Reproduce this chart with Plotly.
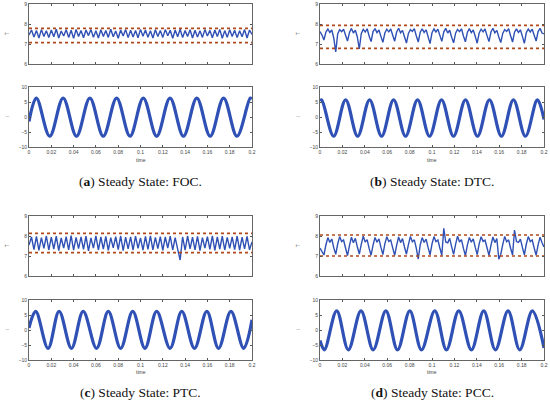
import plotly.graph_objects as go
import numpy as np

# time axis ticks
t_ticks = [0, 0.02, 0.04, 0.06, 0.08, 0.1, 0.12, 0.14, 0.16, 0.18, 0.2]
t_tick_text = ["0", "0.02", "0.04", "0.06", "0.08", "0.1", "0.12", "0.14", "0.16", "0.18", "0.2"]
torque_ticks = [6, 7, 8, 9]
current_ticks = [-10, -5, 0, 5, 10]

captions = ["(<b>a</b>) Steady State: FOC.", "(<b>b</b>) Steady State: DTC.",
            "(<b>c</b>) Steady State: PTC.", "(<b>d</b>) Steady State: PCC."]

# torque hysteresis band (upper, lower) per panel
band_a = [7.78, 7.07]
band_b = [7.93, 6.78]
band_c = [8.13, 7.17]
band_d = [8.05, 7.00]

# torque samples, evenly spaced over 0..0.2 s
torque_a = [7.45, 7.70, 7.35, 7.68, 7.30, 7.72, 7.38, 7.66, 7.32, 7.70,
            7.36, 7.74, 7.30, 7.65, 7.40, 7.71, 7.33, 7.69, 7.28, 7.73,
            7.37, 7.67, 7.31, 7.70, 7.42, 7.72, 7.34, 7.66, 7.30, 7.71,
            7.38, 7.68, 7.33, 7.74, 7.36, 7.65, 7.29, 7.70, 7.40, 7.72,
            7.32, 7.69, 7.35, 7.67, 7.31, 7.73, 7.39, 7.70, 7.34, 7.66,
            7.30, 7.71, 7.37, 7.68, 7.33, 7.72, 7.41, 7.69, 7.29, 7.70,
            7.36, 7.74, 7.32, 7.67, 7.38, 7.71, 7.30, 7.69, 7.35, 7.66,
            7.33, 7.72, 7.40, 7.68, 7.31, 7.70, 7.37, 7.73, 7.29, 7.67,
            7.34, 7.71, 7.38, 7.69, 7.32, 7.66, 7.36, 7.72, 7.30, 7.70,
            7.48]

torque_b = [7.62, 7.45, 7.20, 7.60, 7.75, 7.58,
            7.70, 7.30, 6.60, 7.50, 7.72, 7.62,
            7.74, 7.42, 7.15, 7.58, 7.78, 7.55,
            7.69, 7.35, 6.75, 7.52, 7.73, 7.60,
            7.76, 7.40, 7.12, 7.62, 7.77, 7.57,
            7.70, 7.38, 7.08, 7.55, 7.74, 7.61,
            7.75, 7.44, 7.14, 7.60, 7.79, 7.56,
            7.68, 7.36, 7.05, 7.53, 7.72, 7.63,
            7.77, 7.41, 7.10, 7.59, 7.76, 7.58,
            7.71, 7.37, 7.02, 7.56, 7.75, 7.60,
            7.74, 7.43, 7.13, 7.61, 7.78, 7.55,
            7.69, 7.34, 7.06, 7.54, 7.73, 7.62,
            7.76, 7.40, 7.11, 7.58, 7.77, 7.57,
            7.70, 7.39, 7.04, 7.55, 7.74, 7.61,
            7.75, 7.42, 7.12, 7.60, 7.79, 7.56,
            7.68, 7.35, 7.07, 7.53, 7.72, 7.63,
            7.77, 7.41, 7.10, 7.59, 7.76, 7.58,
            7.71, 7.38, 7.03, 7.57, 7.75, 7.60,
            7.74, 7.44, 7.15, 7.62, 7.78, 7.55,
            7.50]

torque_c = [7.55, 7.95, 7.32, 7.98, 7.28, 7.92, 7.38, 8.00, 7.30, 7.94,
            7.35, 7.99, 7.27, 7.90, 7.40, 7.97, 7.31, 8.02, 7.29, 7.93,
            7.37, 7.96, 7.33, 7.99, 7.26, 7.91, 7.39, 8.01, 7.30, 7.95,
            7.34, 7.98, 7.28, 7.92, 7.41, 7.97, 7.32, 8.00, 7.27, 7.94,
            7.36, 7.96, 7.30, 7.99, 7.38, 7.91, 7.29, 7.98, 7.33, 8.01,
            7.31, 7.93, 7.37, 7.97, 7.28, 7.95, 7.40, 7.99, 7.30, 7.92,
            7.34, 6.80, 7.96, 7.29, 8.00, 7.36, 7.94, 7.31, 7.98, 7.27,
            7.92, 7.39, 7.97, 7.33, 8.01, 7.28, 7.95, 7.35, 7.99, 7.30,
            7.93, 7.38, 7.96, 7.32, 8.00, 7.29, 7.94, 7.36, 7.98, 7.31,
            7.70]

torque_d = [7.40, 7.20, 7.05, 7.55, 7.92, 7.68,
            7.85, 7.42, 7.08, 7.60, 7.97, 7.72,
            7.80, 7.40, 7.02, 7.52, 7.94, 7.66,
            7.88, 7.46, 7.10, 7.58, 7.99, 7.70,
            7.82, 7.38, 7.04, 7.54, 7.93, 7.69,
            7.86, 7.44, 7.07, 7.61, 7.96, 7.73,
            7.79, 7.41, 7.03, 7.53, 7.95, 7.67,
            7.87, 7.45, 7.09, 7.57, 7.98, 7.71,
            7.81, 7.39, 6.85, 7.55, 7.92, 7.68,
            7.84, 7.43, 7.06, 7.60, 7.97, 7.72,
            7.80, 7.40, 7.04, 8.38, 7.70, 7.66,
            7.88, 7.46, 7.08, 7.58, 7.99, 7.70,
            7.82, 7.38, 7.02, 7.54, 7.93, 7.69,
            7.86, 7.44, 7.07, 7.61, 7.96, 7.73,
            7.79, 7.41, 7.03, 7.53, 7.95, 7.67,
            7.87, 6.84, 7.09, 7.57, 7.98, 7.71,
            7.81, 7.39, 7.05, 8.30, 7.72, 7.68,
            7.84, 7.43, 7.06, 7.60, 7.97, 7.72,
            7.80, 7.40, 7.04, 7.56, 7.94, 7.66,
            7.45]

# phase current: start, peaks/troughs, end (time, value)
cur_t_a = [0, 0.0066, 0.0186, 0.0306, 0.0426, 0.0546, 0.0666, 0.0786, 0.0906, 0.1025,
           0.1145, 0.1265, 0.1385, 0.1505, 0.1625, 0.1745, 0.1865, 0.1985, 0.2]
cur_i_a = [-1.5, 6.3, -6.4, 6.3, -6.4, 6.3, -6.4, 6.3, -6.4, 6.3,
           -6.4, 6.3, -6.4, 6.3, -6.4, 6.3, -6.4, 6.3, 6.0]

cur_t_b = [0, 0.0015, 0.0122, 0.0229, 0.0336, 0.0443, 0.0550, 0.0657, 0.0764, 0.0871, 0.0978,
           0.1085, 0.1192, 0.1299, 0.1406, 0.1513, 0.1620, 0.1727, 0.1834, 0.1941, 0.2]
cur_i_b = [5.4, 5.7, -6.4, 5.7, -6.4, 5.7, -6.4, 5.7, -6.4, 5.7, -6.4,
           5.7, -6.4, 5.7, -6.4, 5.7, -6.4, 5.7, -6.4, 5.7, -0.8]

cur_t_c = [0, 0.0060, 0.0171, 0.0270, 0.0381, 0.0486, 0.0606, 0.0711, 0.0822, 0.0930,
           0.1040, 0.1145, 0.1265, 0.1370, 0.1484, 0.1595, 0.1700, 0.1811, 0.1925, 0.2]
cur_i_c = [0.7, 6.2, -6.1, 6.2, -6.1, 6.2, -6.1, 6.2, -6.1, 6.2,
           -6.1, 6.2, -6.1, 6.2, -6.1, 6.2, -6.1, 6.2, -6.1, 3.4]

cur_t_d = [0, 0.0039, 0.0149, 0.0253, 0.0366, 0.0475, 0.0588, 0.0692, 0.0802, 0.0906, 0.1025,
           0.1129, 0.1239, 0.1352, 0.1462, 0.1566, 0.1679, 0.1783, 0.1896, 0.2]
cur_i_d = [-3.5, -6.6, 6.4, -6.6, 6.4, -6.6, 6.4, -6.6, 6.4, -6.6, 6.4,
           -6.6, 6.4, -6.6, 6.4, -6.6, 6.4, -6.6, 6.4, -6.0]

panels = [
    (torque_a, band_a, cur_t_a, cur_i_a),
    (torque_b, band_b, cur_t_b, cur_i_b),
    (torque_c, band_c, cur_t_c, cur_i_c),
    (torque_d, band_d, cur_t_d, cur_i_d),
]

W, H = 550, 401
col_x = [(29, 252), (320, 544)]
# per row: torque plot px, current plot px, "time" label px, caption px
row_y = [((4, 64), (87, 147), 160, 182), ((216, 276), (300, 360), 372, 392)]

blue = '#2f50b4'
band_col = '#b0481c'
tick_font = dict(family="Liberation Sans, Arial", size=5, color="#444444")


def note(text, x, y, font, angle=0):
    return dict(text=text, x=x / W, y=1 - y / H, xref='paper', yref='paper',
                xanchor='center', yanchor='middle', showarrow=False,
                textangle=angle, font=font)


fig = go.Figure()
layout = dict(width=W, height=H, margin=dict(l=0, r=0, t=0, b=0),
              paper_bgcolor='white', plot_bgcolor='white', showlegend=False,
              annotations=[])

n = 0
for k, (torque, band, ct, ci) in enumerate(panels):
    row, col = divmod(k, 2)
    x0, x1 = col_x[col]
    (ty0, ty1), (cy0, cy1), time_y, cap_y = row_y[row]
    xdom = [x0 / W, x1 / W]

    for j, (yy0, yy1) in enumerate([(ty0, ty1), (cy0, cy1)]):
        n += 1
        sfx = '' if n == 1 else str(n)
        xa, ya = 'x' + sfx, 'y' + sfx
        common = dict(ticks='inside', ticklen=2.5, tickcolor='#555555', tickwidth=0.6,
                      showline=True, linecolor='#666666', linewidth=0.7, mirror='allticks',
                      showgrid=False, zeroline=False, tickfont=tick_font, automargin=False)
        layout['xaxis' + sfx] = dict(domain=xdom, anchor=ya, range=[0, 0.2],
                                     tickvals=t_ticks, ticktext=t_tick_text,
                                     showticklabels=(j == 1), **common)
        if j == 0:
            layout['yaxis' + sfx] = dict(domain=[1 - yy1 / H, 1 - yy0 / H], anchor=xa,
                                         range=[6, 9], tickvals=torque_ticks, **common)
            tt = np.linspace(0, 0.2, len(torque))
            fig.add_trace(go.Scatter(x=tt, y=torque, mode='lines', xaxis=xa, yaxis=ya,
                                     line=dict(color=blue, width=1.4)))
            for b in band:
                fig.add_trace(go.Scatter(x=[0, 0.2], y=[b, b], mode='lines', xaxis=xa, yaxis=ya,
                                         line=dict(color=band_col, width=1.6, dash='dot')))
            lbl = 'T'
        else:
            layout['yaxis' + sfx] = dict(domain=[1 - yy1 / H, 1 - yy0 / H], anchor=xa,
                                         range=[-10, 10], tickvals=current_ticks, **common)
            fig.add_trace(go.Scatter(x=ct, y=ci, mode='lines', xaxis=xa, yaxis=ya,
                                     line=dict(color=blue, width=3.2, shape='spline')))
            layout['annotations'].append(note('time', (x0 + x1) / 2, time_y, tick_font))
            lbl = 'i'
        layout['annotations'].append(note(lbl, x0 - 22, (yy0 + yy1) / 2,
                                          dict(size=5, color='#444444'), angle=-90))

    layout['annotations'].append(note(captions[k], (x0 + x1) / 2, cap_y,
                                      dict(family="Liberation Serif", size=13.5, color='#111111')))

fig.update_layout(**layout)
# page body has a default 8px margin; drop it so the figure fills the window
fig.write_html("out.html", config={'displayModeBar': False},
               post_script="document.body.style.margin='0';")
